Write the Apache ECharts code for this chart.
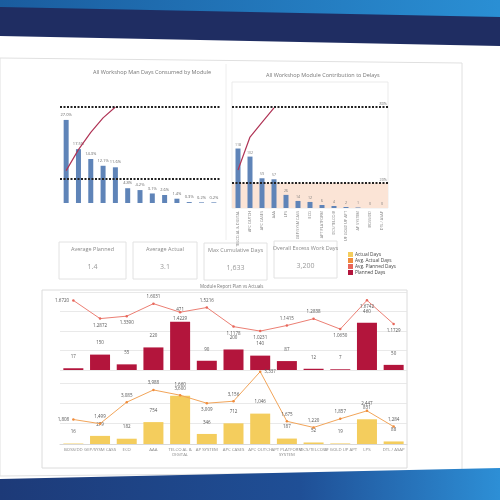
<!DOCTYPE html>
<html><head><meta charset="utf-8">
<script src="https://cdn.jsdelivr.net/npm/echarts@6/dist/echarts.min.js"></script>
<style>html,body{margin:0;padding:0;background:#fff}#c{width:500px;height:500px}</style>
</head><body><div id="c"></div>
<script>
// ---------- data ----------
const moduleNames = ['BOSS/DD','GEP/SYSM CASS','ECO','AAA','TELCO AL &\nDIGITAL','AP SYSTEM','APC CASES','APC OUTCH','APT PLATFORM\nSYSTEM','DCS/TELCO B','UF GOLD UP APT','LPS','DTL / ASAP'];
const manDaysCategories = ['TELCO AL & DIGITAL','AAA','LPS','APC OUTCH','APC CASES','AP SYSTEM','GEP/SYSM CASS','ECO','APT PLATFORM SYSTEM','DTL / ASAP','BOSS/DD','DCS/TELCO B','UF GOLD UP APT'];
const manDaysShare = [27.0, 17.5, 14.3, 12.1, 11.6, 4.8, 4.2, 3.1, 2.6, 1.4, 0.3, 0.2, 0.2];
const manDaysCumulative = [27.0, 44.5, 58.8, 70.9, 80.0];
const delayCategories = ['TELCO AL & DIGITAL','APC OUTCH','APC CASES','AAA','LPS','GEP/SYSM CASS','ECO','APT PLATFORM','DCS/TELCO B','UF GOLD UP APT','AP SYSTEM','BOSS/DD','DTL / ASAP'];
const delayDays = [118, 102, 59, 57, 26, 14, 12, 6, 4, 2, 1, 0, 0];
const delayCumulative = [30.2, 56.3, 68.0, 79.5];
const plannedDays = [17, 150, 55, 220, 471, 90, 200, 140, 87, 12, 7, 460, 50];
const avgPlannedDays = [1.6720, 1.2872, 1.3390, 1.6031, 1.4229, 1.5216, 1.1178, 1.0231, 1.1415, 1.2838, 1.0650, 1.6742, 1.1729];
const actualDays = [16, 279, 182, 754, 1660, 346, 712, 1046, 187, 52, 19, 851, 88];
const avgActualDays = [1808, 1499, 3085, 3988, 3600, 3009, 3156, 5337, 1675, 1220, 1857, 2447, 1284];
const kpiTitles = ['Average Planned','Average Actual','Max Cumulative Days','Overall Excess Work Days'];
const kpiValues = ['1.4','3.1','1,633','3,200'];
const legendNames = ['Actual Days','Avg. Actual Days','Avg. Planned Days','Planned Days'];

// ---------- styles ----------
const redLabelPos = ['left','bottom','bottom','top','bottom','top','bottom','bottom','top','top','bottom','bottom','bottom'];
const orangeLabelPos = ['left','top','top','top','top','bottom','top','right','top','top','top','top','top'];
const kpiBoxes = [[59,242,67,37],[133,242,64,37],[204,243,63,37],[274,241,63,37]];
const FONT = 'Open Sans';
const txt = '#777';

const chart = echarts.init(document.getElementById('c'), null, {renderer:'canvas'});

const graphics = [
  {type:'polygon', z:-10, shape:{points:[[0,0],[500,0],[500,18],[0,8]]},
   style:{fill:new echarts.graphic.LinearGradient(0,0,1,0,[{offset:0,color:'#1a5c9e'},{offset:1,color:'#2a8fd4'}])}},
  {type:'polygon', z:-10, shape:{points:[[0,7],[500,17],[500,46],[0,36]]}, style:{fill:'#1f2d62'}},
  {type:'polygon', z:-10, shape:{points:[[0,58],[462,63],[462,472],[0,476]]}, style:{fill:'#fff', stroke:'#e0e0e0', lineWidth:1}},
  {type:'polyline', z:-9, shape:{points:[[226,64],[226,240]]}, style:{stroke:'#eeeeee', lineWidth:1}},
  {type:'rect', z:-9, shape:{x:42,y:290,width:365,height:178}, style:{fill:'#fff', stroke:'#dcdcdc', lineWidth:1}},
  {type:'polygon', z:-10, shape:{points:[[0,479],[500,468],[500,500],[0,500]]},
   style:{fill:new echarts.graphic.LinearGradient(0,0,1,0,[{offset:0,color:'#1d3a78'},{offset:0.6,color:'#1f4f96'},{offset:1,color:'#2d8fd6'}])}},
  {type:'text', z:5, left:93, top:69, style:{text:'All Workshop Man Days Consumed by Module', font:'5.5px '+FONT, fill:txt}},
  {type:'text', z:5, left:266, top:72, style:{text:'All Workshop Module Contribution to Delays', font:'5.5px '+FONT, fill:txt}},
  {type:'text', z:5, left:200, top:284, style:{text:'Module Report Plan vs Actuals', font:'4.5px '+FONT, fill:txt}}
];
kpiBoxes.forEach((b,i)=>{
  graphics.push({type:'rect', z:-5, shape:{x:b[0],y:b[1],width:b[2],height:b[3]}, style:{fill:'#fff', stroke:'#e2e2e2', lineWidth:1}});
  graphics.push({type:'text', z:5, x:b[0]+b[2]/2, y:b[1]+7, style:{text:kpiTitles[i], font:'5.5px '+FONT, fill:'#8a8a8a', textAlign:'center', textVerticalAlign:'middle'}});
  graphics.push({type:'text', z:5, x:b[0]+b[2]/2, y:b[1]+25, style:{text:kpiValues[i], font:'7px '+FONT, fill:'#9a9a9a', textAlign:'center', textVerticalAlign:'middle'}});
});

const hiddenY = (grid,min,max)=>({type:'value', gridIndex:grid, min:min, max:max, show:false});
const smallLabel = {fontSize:4.5, color:'#555', fontFamily:FONT};

const option = {
  animation:false,
  backgroundColor:'#ffffff',
  textStyle:{fontFamily:FONT},
  graphic:graphics,
  legend:{data:legendNames, orient:'vertical', left:343, top:247, itemWidth:5, itemHeight:5, itemGap:1, icon:'rect',
    textStyle:{fontSize:4.8, color:'#444', padding:[0,0,0,-3]}},
  grid:[
    {left:60, top:83, width:160, height:120, outerBoundsMode:'none'},
    {left:232, top:82, width:156, height:126, show:true, borderColor:'#e6e6e6', borderWidth:0.8, outerBoundsMode:'none'},
    {left:60, top:292, width:347, height:78, outerBoundsMode:'none'},
    {left:60, top:383, width:347, height:61, outerBoundsMode:'none'}
  ],
  xAxis:[
    {type:'category', gridIndex:0, data:manDaysCategories, axisLine:{show:false}, axisTick:{show:false}, axisLabel:{show:false}},
    {type:'category', gridIndex:1, data:delayCategories, axisLine:{show:false}, axisTick:{show:false},
      axisLabel:{rotate:90, interval:0, fontSize:3.8, color:'#888', margin:3}},
    {type:'category', gridIndex:2, data:moduleNames, axisLine:{show:false}, axisTick:{show:false}, axisLabel:{show:false}},
    {type:'category', gridIndex:3, data:moduleNames, axisLine:{lineStyle:{color:'#d8d8d8'}}, axisTick:{show:false},
      axisLabel:{interval:0, fontSize:4.3, color:'#888', lineHeight:5, margin:3}}
  ],
  yAxis:[
    hiddenY(0,0,39), hiddenY(0,0,100),
    hiddenY(1,0,250), hiddenY(1,0,100),
    {type:'value', gridIndex:2, min:0, max:760, interval:190, axisLabel:{show:false}, axisLine:{show:false}, axisTick:{show:false}, splitLine:{lineStyle:{color:'#e3e3e3', width:0.8}}},
    hiddenY(2,0.2,1.85),
    {type:'value', gridIndex:3, min:0, max:2100, interval:700, axisLabel:{show:false}, axisLine:{show:false}, axisTick:{show:false}, splitLine:{lineStyle:{color:'#e3e3e3', width:0.8}}},
    hiddenY(3,0,4500)
  ],
  series:[
    // top-left pareto
    {type:'bar', name:'Man Days Share', xAxisIndex:0, yAxisIndex:0, data:manDaysShare, barWidth:5,
      itemStyle:{color:'#5f84b8'}, label:{show:true, position:'top', distance:3, ...smallLabel, fontSize:4, color:'#666', formatter:p=>p.value.toFixed(1)+'%'}},
    {type:'line', name:'Man Days Cumulative', xAxisIndex:0, yAxisIndex:1, data:manDaysCumulative, symbol:'none',
      lineStyle:{color:'#b03456', width:1.2}, z:4,
      markLine:{silent:true, symbol:'none', label:{show:false}, lineStyle:{color:'#222', type:[2,1.5], width:1.8},
        data:[{yAxis:80},{yAxis:20}]}},
    // top-right pareto
    {type:'line', name:'Delay Zone', xAxisIndex:1, yAxisIndex:3, data:[], z:1,
      markArea:{silent:true, itemStyle:{color:'#fbe4d6'}, data:[[{yAxis:0},{yAxis:20}]]}},
    {type:'bar', name:'Delay Days', xAxisIndex:1, yAxisIndex:2, data:delayDays, barWidth:5, z:3,
      itemStyle:{color:'#5f84b8'}, label:{show:true, position:'top', distance:2, fontSize:3.5, color:'#777'}},
    {type:'line', name:'Delay Cumulative', xAxisIndex:1, yAxisIndex:3, data:delayCumulative, symbol:'none', z:4,
      lineStyle:{color:'#b03456', width:1.2},
      markLine:{silent:true, symbol:'none', lineStyle:{color:'#222', type:[2,1.5], width:1.8},
        label:{show:true, position:'insideEndTop', fontSize:3.8, color:'#777', formatter:p=>p.value+'%', distance:1},
        data:[{yAxis:80},{yAxis:20}]}},
    // bottom: planned
    {type:'bar', name:'Planned Days', xAxisIndex:2, yAxisIndex:4, data:plannedDays, barWidth:20, clip:false,
      itemStyle:{color:'#b3153c'}, label:{show:true, position:'top', distance:9, ...smallLabel}},
    {type:'line', name:'Avg. Planned Days', xAxisIndex:2, yAxisIndex:5, clip:false,
      data:avgPlannedDays.map((v,i)=>({value:v, label:{position:redLabelPos[i]}})),
      symbol:'circle', symbolSize:2.5, itemStyle:{color:'#e8665a'}, lineStyle:{color:'#ec7f74', width:1}, z:5,
      label:{show:true, ...smallLabel, distance:3, formatter:p=>p.value.toFixed(4)}},
    // bottom: actual
    {type:'bar', name:'Actual Days', xAxisIndex:3, yAxisIndex:6, data:actualDays, barWidth:20, clip:false,
      itemStyle:{color:'#f4cd5d'}, label:{show:true, position:'top', distance:9, ...smallLabel, formatter:p=>p.value.toLocaleString('en-US')}},
    {type:'line', name:'Avg. Actual Days', xAxisIndex:3, yAxisIndex:7, clip:false,
      data:avgActualDays.map((v,i)=>({value:v, label:{position:orangeLabelPos[i]}})),
      symbol:'circle', symbolSize:2.5, itemStyle:{color:'#f08c3c'}, lineStyle:{color:'#f2a55a', width:1}, z:5,
      label:{show:true, ...smallLabel, distance:3, formatter:p=>p.value.toLocaleString('en-US')}}
  ]
};
chart.setOption(option);
</script>
</body></html>
